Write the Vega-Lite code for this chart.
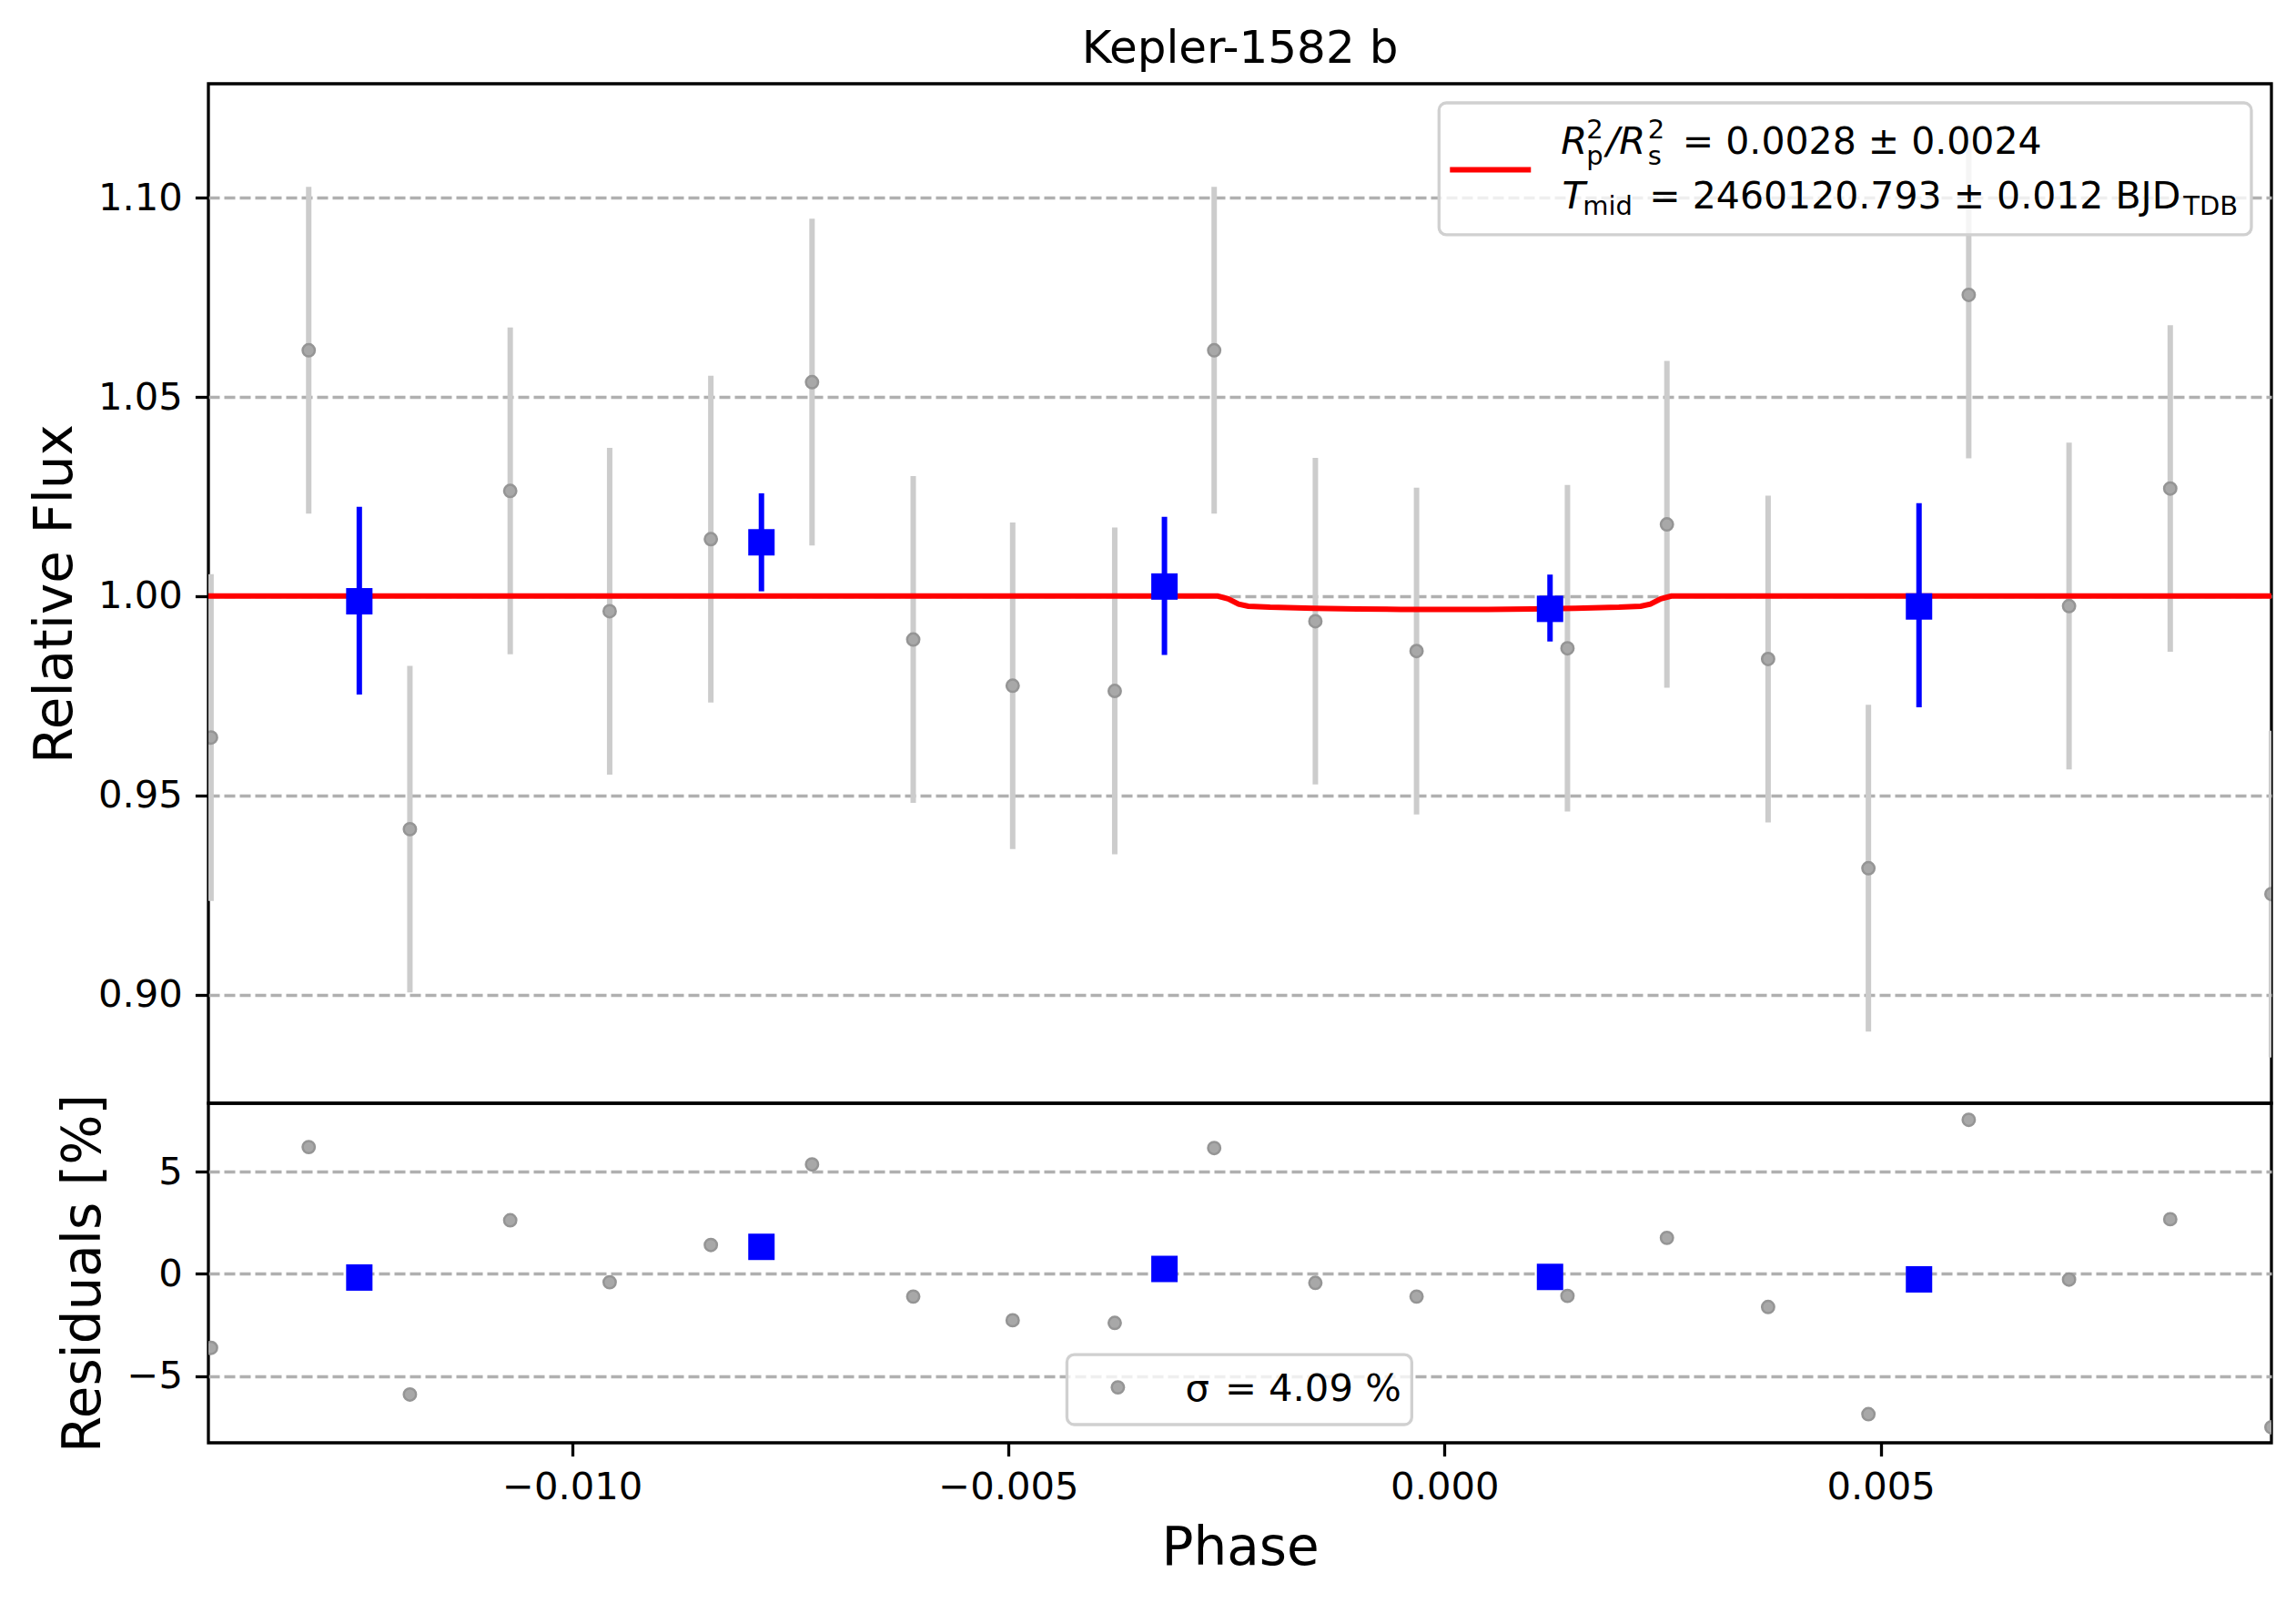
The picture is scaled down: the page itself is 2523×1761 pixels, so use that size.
{
  "$schema": "https://vega.github.io/schema/vega-lite/v6.json",
  "background": "white",
  "padding": {"left": 30, "top": 27, "right": 29, "bottom": 29},
  "config": {
    "font": "DejaVu Sans",
    "view": {"stroke": "black", "strokeWidth": 3.3},
    "axis": {
      "labelFont": "DejaVu Sans", "labelFontSize": 41.7, "labelColor": "black",
      "tickColor": "black", "tickWidth": 3.3, "tickSize": 14.6, "labelPadding": 14,
      "domain": false, "titleFont": "DejaVu Sans", "titleFontSize": 58,
      "titleFontWeight": "normal", "titleColor": "black", "titlePadding": 17,
      "gridColor": "#b0b0b0", "gridDash": [12, 5], "gridWidth": 3.3,
      "labelFlush": false, "labelOverlap": false
    },
    "axisX": {"grid": false},
    "axisY": {"grid": true}
  },
  "datasets": {
    "raw": [
      {"phase": -0.01414, "flux": 0.9645, "lo": 0.9235, "hi": 1.0055, "resid": -3.62},
      {"phase": -0.01302, "flux": 1.0617, "lo": 1.0207, "hi": 1.1027, "resid": 6.20},
      {"phase": -0.01186, "flux": 0.9415, "lo": 0.9005, "hi": 0.9825, "resid": -5.90},
      {"phase": -0.01071, "flux": 1.0264, "lo": 0.9854, "hi": 1.0674, "resid": 2.62},
      {"phase": -0.00957, "flux": 0.9962, "lo": 0.9552, "hi": 1.0372, "resid": -0.41},
      {"phase": -0.00841, "flux": 1.0143, "lo": 0.9733, "hi": 1.0553, "resid": 1.41},
      {"phase": -0.00725, "flux": 1.0537, "lo": 1.0127, "hi": 1.0947, "resid": 5.35},
      {"phase": -0.00609, "flux": 0.9891, "lo": 0.9481, "hi": 1.0301, "resid": -1.11},
      {"phase": -0.00495, "flux": 0.9775, "lo": 0.9365, "hi": 1.0185, "resid": -2.27},
      {"phase": -0.00378, "flux": 0.9762, "lo": 0.9352, "hi": 1.0172, "resid": -2.40},
      {"phase": -0.00264, "flux": 1.0617, "lo": 1.0207, "hi": 1.1027, "resid": 6.15},
      {"phase": -0.00148, "flux": 0.9937, "lo": 0.9527, "hi": 1.0347, "resid": -0.44},
      {"phase": -0.00032, "flux": 0.9862, "lo": 0.9452, "hi": 1.0272, "resid": -1.11},
      {"phase": 0.00141, "flux": 0.9869, "lo": 0.9459, "hi": 1.0279, "resid": -1.08},
      {"phase": 0.00255, "flux": 1.0180, "lo": 0.9770, "hi": 1.0590, "resid": 1.76},
      {"phase": 0.00371, "flux": 0.9842, "lo": 0.9432, "hi": 1.0252, "resid": -1.62},
      {"phase": 0.00486, "flux": 0.9317, "lo": 0.8907, "hi": 0.9727, "resid": -6.86},
      {"phase": 0.00601, "flux": 1.0756, "lo": 1.0346, "hi": 1.1166, "resid": 7.53},
      {"phase": 0.00716, "flux": 0.9975, "lo": 0.9565, "hi": 1.0385, "resid": -0.28},
      {"phase": 0.00832, "flux": 1.0270, "lo": 0.9860, "hi": 1.0680, "resid": 2.67},
      {"phase": 0.00948, "flux": 0.9252, "lo": 0.8842, "hi": 0.9662, "resid": -7.50}
    ],
    "binned": [
      {"phase": -0.01244, "flux": 0.9987, "lo": 0.9753, "hi": 1.0224, "resid": -0.18},
      {"phase": -0.00783, "flux": 1.0135, "lo": 1.0012, "hi": 1.0258, "resid": 1.32},
      {"phase": -0.00321, "flux": 1.0024, "lo": 0.9852, "hi": 1.0199, "resid": 0.24},
      {"phase": 0.00121, "flux": 0.9968, "lo": 0.9886, "hi": 1.0054, "resid": -0.15},
      {"phase": 0.00544, "flux": 0.9974, "lo": 0.9721, "hi": 1.0233, "resid": -0.27}
    ],
    "model": [
      {"phase": -0.0142, "flux": 1.0},
      {"phase": -0.0026, "flux": 1.0},
      {"phase": -0.00248, "flux": 0.9993},
      {"phase": -0.00236, "flux": 0.9980},
      {"phase": -0.00225, "flux": 0.99745},
      {"phase": -0.0020, "flux": 0.9972},
      {"phase": -0.0015, "flux": 0.99695},
      {"phase": -0.0010, "flux": 0.99678},
      {"phase": -0.0005, "flux": 0.99668},
      {"phase": 0.0, "flux": 0.99665},
      {"phase": 0.0005, "flux": 0.99668},
      {"phase": 0.0010, "flux": 0.99678},
      {"phase": 0.0015, "flux": 0.99695},
      {"phase": 0.0020, "flux": 0.9972},
      {"phase": 0.00225, "flux": 0.99745},
      {"phase": 0.00236, "flux": 0.9980},
      {"phase": 0.00248, "flux": 0.9993},
      {"phase": 0.0026, "flux": 1.0},
      {"phase": 0.0095, "flux": 1.0}
    ]
  },
  "spacing": 0,
  "bounds": "flush",
  "vconcat": [
    {
      "width": 2267,
      "height": 1120,
      "title": {
        "text": "Kepler-1582 b", "fontSize": 50, "font": "DejaVu Sans",
        "fontWeight": "normal", "color": "black", "frame": "group",
        "anchor": "middle", "offset": -27, "baseline": "alphabetic"
      },
      "layer": [
        {
          "data": {"name": "raw"},
          "mark": {"type": "rule", "color": "#cccccc", "strokeWidth": 6, "clip": true},
          "encoding": {
            "x": {"field": "phase", "type": "quantitative", "scale": {"domain": [-0.01417, 0.00948], "nice": false, "zero": false}, "axis": null},
            "y": {"field": "lo", "type": "quantitative", "scale": {"domain": [0.8727, 1.1286], "nice": false, "zero": false},
              "axis": {"values": [0.9, 0.95, 1.0, 1.05, 1.1], "format": ".2f", "title": "Relative Flux"}},
            "y2": {"field": "hi"}
          }
        },
        {
          "data": {"name": "raw"},
          "mark": {"type": "point", "shape": "circle", "filled": true, "fill": "#a8a8a8", "stroke": "#959595", "strokeWidth": 2.5, "size": 180, "opacity": 1, "clip": true},
          "encoding": {
            "x": {"field": "phase", "type": "quantitative", "scale": {"domain": [-0.01417, 0.00948], "nice": false, "zero": false}},
            "y": {"field": "flux", "type": "quantitative", "scale": {"domain": [0.8727, 1.1286], "nice": false, "zero": false}}
          }
        },
        {
          "data": {"name": "model"},
          "mark": {"type": "line", "color": "#ff0000", "strokeWidth": 6, "clip": true},
          "encoding": {
            "x": {"field": "phase", "type": "quantitative", "scale": {"domain": [-0.01417, 0.00948], "nice": false, "zero": false}},
            "y": {"field": "flux", "type": "quantitative", "scale": {"domain": [0.8727, 1.1286], "nice": false, "zero": false}}
          }
        },
        {
          "data": {"name": "binned"},
          "mark": {"type": "rule", "color": "#0000ff", "strokeWidth": 6, "clip": true},
          "encoding": {
            "x": {"field": "phase", "type": "quantitative", "scale": {"domain": [-0.01417, 0.00948], "nice": false, "zero": false}},
            "y": {"field": "lo", "type": "quantitative", "scale": {"domain": [0.8727, 1.1286], "nice": false, "zero": false}},
            "y2": {"field": "hi"}
          }
        },
        {
          "data": {"name": "binned"},
          "mark": {"type": "square", "color": "#0000ff", "filled": true, "opacity": 1, "size": 841, "clip": true},
          "encoding": {
            "x": {"field": "phase", "type": "quantitative", "scale": {"domain": [-0.01417, 0.00948], "nice": false, "zero": false}},
            "y": {"field": "flux", "type": "quantitative", "scale": {"domain": [0.8727, 1.1286], "nice": false, "zero": false}}
          }
        },
        {
          "data": {"values": [{}]},
          "mark": {"type": "rect", "fill": "white", "fillOpacity": 0.8, "stroke": "#d0d0d0", "strokeWidth": 3.3, "cornerRadius": 8},
          "encoding": {
            "x": {"datum": -0.0000626, "type": "quantitative"},
            "x2": {"datum": 0.00925},
            "y": {"datum": 1.1238, "type": "quantitative"},
            "y2": {"datum": 1.0907}
          }
        },
        {
          "data": {"values": [{}]},
          "mark": {"type": "rule", "color": "#ff0000", "strokeWidth": 6},
          "encoding": {
            "x": {"datum": 0.0000626, "type": "quantitative"},
            "x2": {"datum": 0.000991},
            "y": {"datum": 1.1070, "type": "quantitative"}
          }
        },
        {
          "data": {"values": [
            {"t": "R", "px": 0.001335, "py": 1.1110},
            {"t": "/R", "px": 0.001856, "py": 1.1110},
            {"t": "T", "px": 0.001349, "py": 1.0972}
          ]},
          "mark": {"type": "text", "align": "left", "baseline": "alphabetic", "fontSize": 41.7, "fontStyle": "italic", "color": "black"},
          "encoding": {
            "x": {"field": "px", "type": "quantitative"},
            "y": {"field": "py", "type": "quantitative"},
            "text": {"field": "t"}
          }
        },
        {
          "data": {"values": [
            {"t": "= 0.0028 ± 0.0024", "px": 0.002729, "py": 1.1110},
            {"t": "= 2460120.793 ± 0.012 BJD", "px": 0.002348, "py": 1.0972}
          ]},
          "mark": {"type": "text", "align": "left", "baseline": "alphabetic", "fontSize": 41, "color": "black"},
          "encoding": {
            "x": {"field": "px", "type": "quantitative"},
            "y": {"field": "py", "type": "quantitative"},
            "text": {"field": "t"}
          }
        },
        {
          "data": {"values": [
            {"t": "2", "px": 0.001627, "py": 1.1149, "st": "normal"},
            {"t": "2", "px": 0.002332, "py": 1.1149, "st": "normal"},
            {"t": "p", "px": 0.001627, "py": 1.1083, "st": "italic"},
            {"t": "s", "px": 0.002332, "py": 1.1083, "st": "italic"},
            {"t": "mid", "px": 0.001585, "py": 1.0957, "st": "italic"},
            {"t": "TDB", "px": 0.00847, "py": 1.0957, "st": "italic"}
          ]},
          "mark": {"type": "text", "align": "left", "baseline": "alphabetic", "fontSize": 29, "color": "black"},
          "encoding": {
            "x": {"field": "px", "type": "quantitative"},
            "y": {"field": "py", "type": "quantitative"},
            "text": {"field": "t"},
            "fontStyle": {"field": "st", "type": "nominal", "scale": null}
          }
        }
      ]
    },
    {
      "width": 2267,
      "height": 373,
      "layer": [
        {
          "data": {"name": "raw"},
          "mark": {"type": "point", "shape": "circle", "filled": true, "fill": "#a8a8a8", "stroke": "#959595", "strokeWidth": 2.5, "size": 180, "opacity": 1, "clip": true},
          "encoding": {
            "x": {"field": "phase", "type": "quantitative", "scale": {"domain": [-0.01417, 0.00948], "nice": false, "zero": false},
              "axis": {"values": [-0.01, -0.005, 0, 0.005], "format": ".3f", "title": "Phase"}},
            "y": {"field": "resid", "type": "quantitative", "scale": {"domain": [-8.26, 8.34], "nice": false, "zero": false},
              "axis": {"values": [-5, 0, 5], "format": "d", "title": "Residuals [%]"}}
          }
        },
        {
          "data": {"name": "binned"},
          "mark": {"type": "square", "color": "#0000ff", "filled": true, "opacity": 1, "size": 841, "clip": true},
          "encoding": {
            "x": {"field": "phase", "type": "quantitative", "scale": {"domain": [-0.01417, 0.00948], "nice": false, "zero": false}},
            "y": {"field": "resid", "type": "quantitative", "scale": {"domain": [-8.26, 8.34], "nice": false, "zero": false}}
          }
        },
        {
          "data": {"values": [{}]},
          "mark": {"type": "rect", "fill": "white", "fillOpacity": 0.8, "stroke": "#d0d0d0", "strokeWidth": 3.3, "cornerRadius": 8},
          "encoding": {
            "x": {"datum": -0.004328, "type": "quantitative"},
            "x2": {"datum": -0.000375},
            "y": {"datum": -3.95, "type": "quantitative"},
            "y2": {"datum": -7.37}
          }
        },
        {
          "data": {"values": [{"px": -0.003744, "py": -5.55}]},
          "mark": {"type": "point", "shape": "circle", "filled": true, "fill": "#a8a8a8", "stroke": "#959595", "strokeWidth": 2.5, "size": 180, "opacity": 1},
          "encoding": {
            "x": {"field": "px", "type": "quantitative"},
            "y": {"field": "py", "type": "quantitative"}
          }
        },
        {
          "data": {"values": [
            {"t": "σ", "px": -0.002972, "py": -6.2, "st": "italic"},
            {"t": "= 4.09 %", "px": -0.002518, "py": -6.2, "st": "normal"}
          ]},
          "mark": {"type": "text", "align": "left", "baseline": "alphabetic", "fontSize": 41.7, "color": "black"},
          "encoding": {
            "x": {"field": "px", "type": "quantitative"},
            "y": {"field": "py", "type": "quantitative"},
            "text": {"field": "t"},
            "fontStyle": {"field": "st", "type": "nominal", "scale": null}
          }
        }
      ]
    }
  ]
}
